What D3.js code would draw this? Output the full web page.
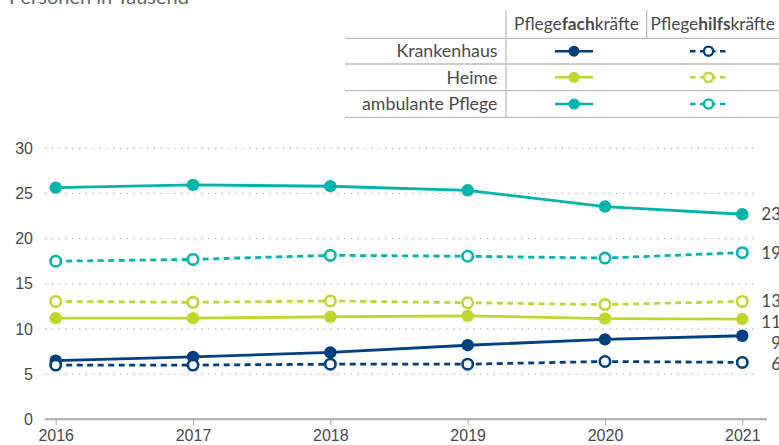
<!DOCTYPE html>
<html><head><meta charset="utf-8">
<script src="https://cdn.jsdelivr.net/npm/d3@7"></script>
<style>
body{margin:0;background:#fff;}
svg{font-family:"Source Sans Pro","Lato","Noto Sans",sans-serif;}
</style></head><body>
<svg id="c" width="779" height="445"></svg>
<script>
const years = [2016, 2017, 2018, 2019, 2020, 2021];
const yTicks = [0, 5, 10, 15, 20, 25, 30];
const krankenhausFach = [6.5, 6.9, 7.4, 8.2, 8.85, 9.25];
const krankenhausHilfs = [6.0, 6.0, 6.1, 6.1, 6.4, 6.3];
const heimeFach = [11.2, 11.2, 11.35, 11.45, 11.15, 11.1];
const heimeHilfs = [13.05, 12.95, 13.1, 12.9, 12.7, 13.05];
const ambulantFach = [25.65, 25.95, 25.8, 25.35, 23.55, 22.7];
const ambulantHilfs = [17.5, 17.7, 18.15, 18.05, 17.85, 18.45];
const endLabels = ["9", "6", "11", "13", "23", "19"];
const rowLabels = ["Krankenhaus", "Heime", "ambulante Pflege"];
const colors = ["#003f80", "#c0d62f", "#00b3ab"];
const unitLabel = "Personen in Tausend";

const series = [
  {values: krankenhausFach, color: colors[0], hilfs: false, label: endLabels[0]},
  {values: krankenhausHilfs, color: colors[0], hilfs: true, label: endLabels[1]},
  {values: heimeFach, color: colors[1], hilfs: false, label: endLabels[2]},
  {values: heimeHilfs, color: colors[1], hilfs: true, label: endLabels[3]},
  {values: ambulantFach, color: colors[2], hilfs: false, label: endLabels[4]},
  {values: ambulantHilfs, color: colors[2], hilfs: true, label: endLabels[5]}
];

const svg = d3.select("#c");
const textColor = "#4a4a4a";
const x = d3.scaleLinear().domain([2016, 2021]).range([55.7, 742.3]);
const y = d3.scaleLinear().domain([0, 30]).range([419.3, 148.3]);

// unit label (cut at top)
svg.append("text").attr("x", 9).attr("y", 4).attr("font-size", 20)
  .attr("fill", "#666").text(unitLabel);

// gridlines
svg.append("g").selectAll("line").data(yTicks.filter(d => d > 0)).join("line")
  .attr("x1", 45).attr("x2", 754).attr("y1", d => y(d)).attr("y2", d => y(d))
  .attr("stroke", "#b5b5b5").attr("stroke-width", 1.3).attr("stroke-dasharray", "1.3,5.5");

// y axis labels
const yAxis = d3.axisLeft(y).tickValues(yTicks).tickSize(0).tickPadding(0);
const gy = svg.append("g").attr("transform", "translate(33,0)").call(yAxis);
gy.select(".domain").remove();
gy.selectAll("text").attr("font-size", 16).attr("fill", textColor).attr("font-family", null);

// x axis
const xAxis = d3.axisBottom(x).tickValues(years).tickFormat(d3.format("d")).tickSize(6).tickPadding(4);
const gx = svg.append("g").attr("transform", `translate(0,${y(0)})`).call(xAxis);
gx.select(".domain").remove();
gx.selectAll(".tick line").attr("stroke", "#aaa").attr("stroke-width", 1);
gx.selectAll("text").attr("font-size", 16).attr("fill", textColor).attr("font-family", null);
svg.append("line").attr("x1", 45).attr("x2", 767).attr("y1", y(0)).attr("y2", y(0))
  .attr("stroke", "#aaa").attr("stroke-width", 2);

// lines
const line = d3.line().x((d, i) => x(years[i])).y(d => y(d));
const g = svg.append("g");
series.forEach(s => {
  g.append("path").attr("d", line(s.values)).attr("fill", "none")
    .attr("stroke", s.color).attr("stroke-width", 2.8)
    .attr("stroke-dasharray", s.hilfs ? "6,4.5" : null);
});
series.forEach(s => {
  g.selectAll(null).data(s.values).join("circle")
    .attr("cx", (d, i) => x(years[i])).attr("cy", d => y(d))
    .attr("r", s.hilfs ? 5.2 : 6.2)
    .attr("fill", s.hilfs ? "#fff" : s.color)
    .attr("stroke", s.color).attr("stroke-width", s.hilfs ? 2.6 : 0);
});

// end labels with simple collision avoidance (push downward)
const labelPos = series.map(s => ({label: s.label, y: y(s.values[s.values.length - 1])}))
  .sort((a, b) => a.y - b.y);
for (let i = 1; i < labelPos.length; i++) {
  if (labelPos[i].y - labelPos[i - 1].y < 21) labelPos[i].y = labelPos[i - 1].y + 21;
}
labelPos.forEach(p => {
  svg.append("text").attr("x", 781).attr("y", p.y).attr("dy", "0.35em")
    .attr("text-anchor", "end").attr("font-size", 17).attr("fill", textColor).text(p.label);
});

// legend table
const lg = svg.append("g");
const hLines = [38.3, 64, 90.7, 117.3];
lg.selectAll("line.h").data(hLines).join("line").attr("class", "h")
  .attr("x1", 345).attr("x2", 779).attr("y1", d => d).attr("y2", d => d)
  .attr("stroke", "#bdbdbd").attr("stroke-width", 1.3);
lg.append("line").attr("x1", 506).attr("x2", 506).attr("y1", 10).attr("y2", 117.3)
  .attr("stroke", "#bdbdbd").attr("stroke-width", 1.3);
lg.append("line").attr("x1", 646.7).attr("x2", 646.7).attr("y1", 10).attr("y2", 38.3)
  .attr("stroke", "#bdbdbd").attr("stroke-width", 1.3);

const h1 = lg.append("text").attr("x", 576.5).attr("y", 30).attr("text-anchor", "middle")
  .attr("font-size", 17.3).attr("fill", textColor);
h1.append("tspan").text("Pflege");
h1.append("tspan").attr("font-weight", "bold").text("fach");
h1.append("tspan").text("kräfte");
const h2 = lg.append("text").attr("x", 712.7).attr("y", 30).attr("text-anchor", "middle")
  .attr("font-size", 17.3).attr("fill", textColor);
h2.append("tspan").text("Pflege");
h2.append("tspan").attr("font-weight", "bold").text("hilfs");
h2.append("tspan").text("kräfte");

const rowY = [51.2, 77.3, 104];
rowLabels.forEach((lab, i) => {
  lg.append("text").attr("x", 497.5).attr("y", rowY[i]).attr("dy", "0.35em")
    .attr("text-anchor", "end").attr("font-size", 17.8).attr("fill", textColor).text(lab);
  lg.append("line").attr("x1", 555).attr("x2", 593).attr("y1", rowY[i]).attr("y2", rowY[i])
    .attr("stroke", colors[i]).attr("stroke-width", 2.6);
  lg.append("circle").attr("cx", 574).attr("cy", rowY[i]).attr("r", 5.5).attr("fill", colors[i]);
  lg.append("line").attr("x1", 690).attr("x2", 728).attr("y1", rowY[i]).attr("y2", rowY[i])
    .attr("stroke", colors[i]).attr("stroke-width", 2.6).attr("stroke-dasharray", "5.5,4.5");
  lg.append("circle").attr("cx", 708.5).attr("cy", rowY[i]).attr("r", 4.6).attr("fill", "#fff")
    .attr("stroke", colors[i]).attr("stroke-width", 2.4);
});
</script></body></html>
